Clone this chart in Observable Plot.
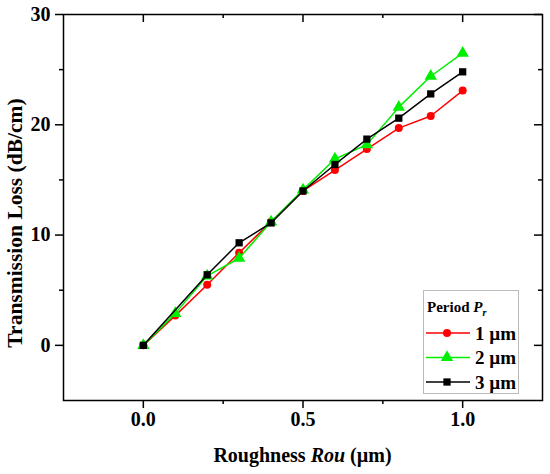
<!DOCTYPE html>
<html><head><meta charset="utf-8">
<script src="https://cdn.jsdelivr.net/npm/d3@7"></script>
<script src="https://cdn.jsdelivr.net/npm/@observablehq/plot@0.6"></script>
<style>
body{margin:0;background:#fff}
svg{font-family:"Liberation Serif","Times New Roman",serif}
</style>
</head><body><div id="chart"></div>
<script>
const roughness = [0,0.1,0.2,0.3,0.4,0.5,0.6,0.7,0.8,0.9,1.0];
const roughness3 = [0,0.2,0.3,0.4,0.5,0.6,0.7,0.8,0.9,1.0];
const loss1 = [0,2.7,5.5,8.4,11.2,14.0,15.9,17.8,19.7,20.8,23.1];
const loss2 = [0,2.9,6.3,7.9,11.2,14.1,16.9,18.2,21.6,24.4,26.5];
const loss3 = [0,6.4,9.3,11.1,14.0,16.4,18.7,20.6,22.8,24.8];
const seriesNames = ["1 µm","2 µm","3 µm"];
const seriesColors = ["#ff0000","#00ee00","#000000"];
const seriesSymbols = ["circle","triangle","square"];
const xMajor = [0,0.5,1];
const xMinor = [0.25,0.75];
const yMajor = [0,10,20,30];
const yMinor = [5,15,25];

const xs = [roughness, roughness, roughness3];
const ys = [loss1, loss2, loss3];
const series = seriesNames.map((name,i)=>xs[i].map((x,j)=>({x, y: ys[i][j], name})));

const W=550,H=474,mL=63,mR=8,mT=14,mB=74;
const plotW=W-mL-mR, plotH=H-mT-mB;
const symR = [4,4.6,4.1];

const marks = [];
series.forEach((data,i)=>{
  marks.push(Plot.line(data,{x:"x",y:"y",stroke:seriesColors[i],strokeWidth:1.5}));
  marks.push(Plot.dot(data,{x:"x",y:"y",fill:seriesColors[i],stroke:"none",symbol:()=>seriesSymbols[i],r:symR[i]}));
});

const svg = Plot.plot({
  width:W,height:H,marginLeft:mL,marginRight:mR,marginTop:mT,marginBottom:mB,
  style:{fontFamily:"'Liberation Serif','Times New Roman',serif",background:"#fff",overflow:"visible"},
  x:{domain:[-0.25,1.25]},
  y:{domain:[-5,30]},
  symbol:{type:"identity"},
  marks:[
    Plot.axisX(xMajor,{tickSize:8,strokeWidth:1.5,tickPadding:3,tickFormat:d3.format(".1f"),fontSize:20,fontWeight:"bold",label:null}),
    Plot.axisX(xMinor,{tickSize:4,strokeWidth:1.5,tickFormat:()=>"",label:null}),
    Plot.axisY(yMajor,{tickSize:8,strokeWidth:1.5,tickPadding:5,fontSize:20,fontWeight:"bold",label:null}),
    Plot.axisY(yMinor,{tickSize:4,strokeWidth:1.5,tickFormat:()=>"",label:null}),
    Plot.tickX(xMajor,{x:d=>d,insetBottom:plotH-8,strokeWidth:1.5}),
    Plot.tickX(xMinor,{x:d=>d,insetBottom:plotH-4,strokeWidth:1.5}),
    Plot.tickY(yMajor,{y:d=>d,insetLeft:plotW-8,strokeWidth:1.5}),
    Plot.tickY(yMinor,{y:d=>d,insetLeft:plotW-4,strokeWidth:1.5}),
    ...marks,
    Plot.frame({stroke:"black",strokeWidth:1.5})
  ]
});

const s = d3.select(svg);
// x label
const xl = s.append("text").attr("x",mL+plotW/2).attr("y",462).attr("text-anchor","middle")
  .attr("font-size",20).attr("font-weight","bold").attr("fill","black");
xl.append("tspan").text("Roughness ");
xl.append("tspan").attr("font-style","italic").text("Rou");
xl.append("tspan").text(" (µm)");
// y label
s.append("text").attr("transform",`translate(15,223) rotate(-90)`).attr("text-anchor","middle")
  .attr("dominant-baseline","central").attr("font-size",21.5).attr("font-weight","bold").attr("fill","black")
  .text("Transmission Loss (dB/cm)");
// legend
const lg = s.append("g").attr("text-anchor","start");
lg.append("rect").attr("x",423.5).attr("y",290.5).attr("width",95).attr("height",103)
  .attr("fill","white").attr("stroke","#bbb").attr("stroke-width",1);
const lt = lg.append("text").attr("x",427).attr("y",312).attr("font-size",15).attr("font-weight","bold").attr("fill","black");
lt.append("tspan").text("Period ");
lt.append("tspan").attr("font-style","italic").text("P");
lt.append("tspan").attr("font-style","italic").attr("font-size",10).attr("dy",4).text("r");
const symMap = {circle:d3.symbolCircle,triangle:d3.symbolTriangle,square:d3.symbolSquare};
seriesNames.forEach((name,i)=>{
  const cy = 333 + i*24.5;
  lg.append("line").attr("x1",426).attr("x2",470).attr("y1",cy).attr("y2",cy)
    .attr("stroke",seriesColors[i]).attr("stroke-width",1.5);
  lg.append("path").attr("transform",`translate(447,${cy})`)
    .attr("d",d3.symbol(symMap[seriesSymbols[i]], Math.PI*symR[i]*symR[i])()).attr("fill",seriesColors[i]);
  lg.append("text").attr("x",475).attr("y",cy).attr("dominant-baseline","central")
    .attr("font-size",19).attr("font-weight","bold").attr("fill","black").text(name);
});
document.getElementById("chart").appendChild(svg);
</script>
</body></html>
